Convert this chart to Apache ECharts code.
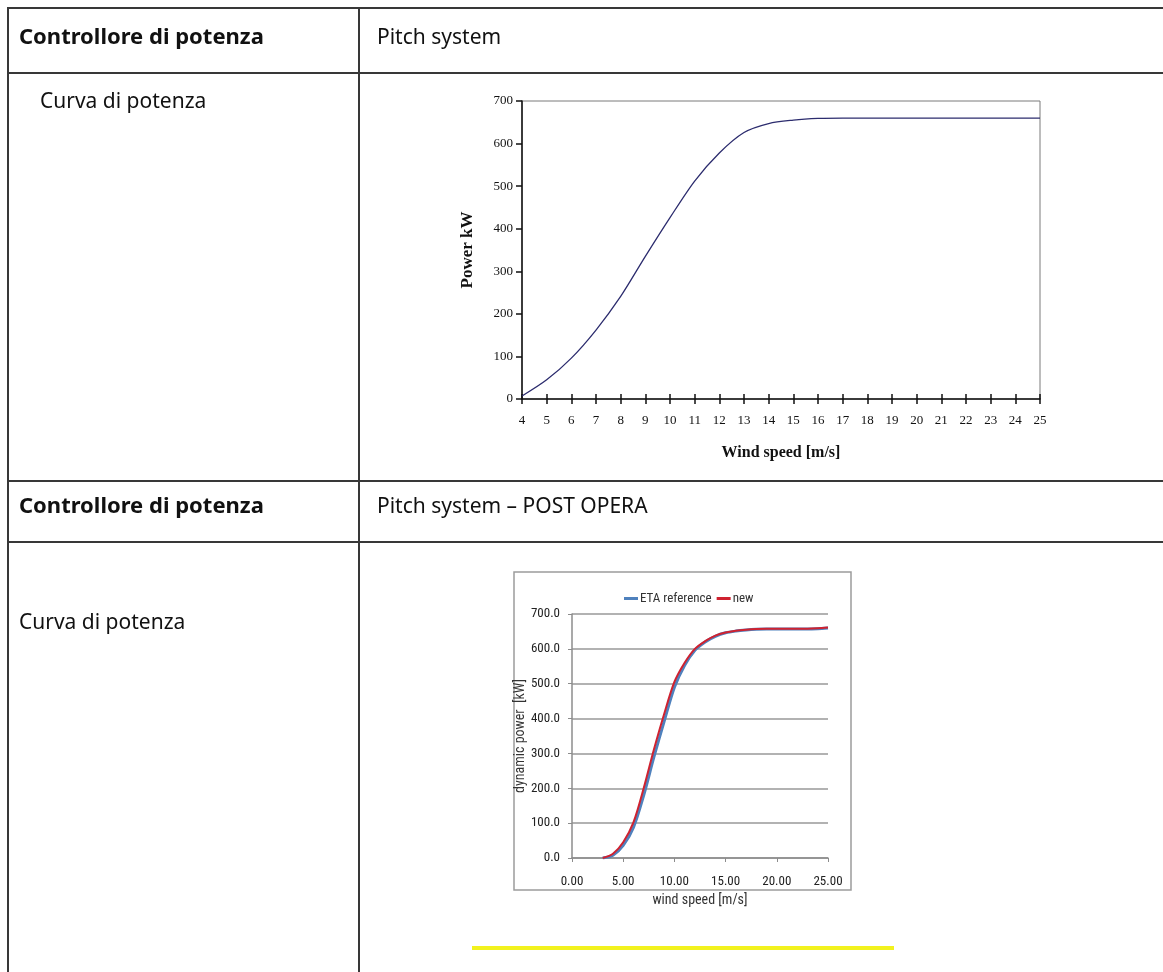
<!DOCTYPE html>
<html>
<head>
<meta charset="utf-8">
<script src="https://cdn.jsdelivr.net/npm/echarts@6/dist/echarts.min.js"></script>
<style>
  html, body { margin: 0; padding: 0; background: #fff; }
  #main { width: 1163px; height: 972px; }
</style>
</head>
<body>
<div id="main"></div>
<script>
// pitch system (before) - power curve
var windTop = [4, 5, 6, 7, 8, 9, 10, 11, 12, 13, 14, 15, 16, 17, 18, 19, 20, 21, 22, 23, 24, 25];
var powerTop = [7, 45, 96, 162, 241, 335, 426, 512, 578, 626, 647, 655, 659, 660, 660, 660, 660, 660, 660, 660, 660, 660];

// post opera - ETA reference vs new
var windPost = [3, 4, 5, 6, 7, 8, 9, 10, 11, 12, 13, 14, 15, 16, 17, 18, 19, 20, 21, 22, 23, 24, 25];
var powerEta = [0, 8, 36, 88, 180, 290, 392, 490, 553, 596, 620, 636, 646, 651, 654, 656, 657, 657, 657, 657, 657, 658, 660];
var powerNew = [0, 12, 45, 102, 200, 311, 413, 505, 560, 600, 622, 638, 647, 652, 655, 657, 658, 658, 658, 658, 658, 659, 661];

var headLeft = 'Controllore di potenza';
var rowLeft = 'Curva di potenza';
var headTop = 'Pitch system';
var headPost = 'Pitch system \u2013 POST OPERA';

function pairs(xs, ys) {
  var out = [];
  for (var i = 0; i < xs.length; i++) out.push([xs[i], ys[i]]);
  return out;
}

var serif = '"Liberation Serif", "Times New Roman", serif';
var narrow = '"Liberation Sans Narrow", "Roboto Condensed", "Liberation Sans", sans-serif';
var sans = '"Noto Sans", "DejaVu Sans", sans-serif';
var lineCol = '#383838';

function hline(y) {
  return { type: 'line', shape: { x1: 7, y1: y, x2: 1163, y2: y }, style: { stroke: lineCol, lineWidth: 2 } };
}
function vline(x) {
  return { type: 'line', shape: { x1: x, y1: 7, x2: x, y2: 972 }, style: { stroke: lineCol, lineWidth: 2 } };
}
function label(x, y, text, bold) {
  return {
    type: 'text', x: x, y: y,
    style: {
      text: text, fill: '#111', fontFamily: sans,
      fontSize: bold ? 22 : 21, fontWeight: bold ? 'bold' : 'normal',
      verticalAlign: 'middle'
    }
  };
}

var chart = echarts.init(document.getElementById('main'));

chart.setOption({
  animation: false,
  backgroundColor: '#fff',
  graphic: [
    hline(8), hline(73), hline(481), hline(542),
    vline(8), vline(359),
    label(19, 38, headLeft, true),
    label(377, 38, headTop, false),
    label(40, 102, rowLeft, false),
    label(19, 507, headLeft, true),
    label(377, 507, headPost, false),
    label(19, 623, rowLeft, false),
    {
      type: 'rect',
      shape: { x: 514, y: 572, width: 337, height: 318 },
      style: { fill: 'none', stroke: '#9c9c9c', lineWidth: 1.5 }
    },
    {
      type: 'line',
      shape: { x1: 472, y1: 948, x2: 894, y2: 948 },
      style: { stroke: '#f2f21e', lineWidth: 4 }
    }
  ],
  legend: {
    data: ['ETA reference', 'new'],
    left: 619, top: 587,
    icon: 'rect', itemWidth: 14, itemHeight: 3, itemGap: 5,
    textStyle: { fontSize: 13, fontFamily: narrow, color: '#333', padding: [0, 0, 0, -3] }
  },
  grid: [
    { left: 522, top: 101, width: 518, height: 298, show: true, borderColor: '#7a7a7a', borderWidth: 1, backgroundColor: 'transparent' },
    { left: 572, top: 614, width: 256, height: 244 }
  ],
  xAxis: [
    {
      type: 'value', gridIndex: 0, min: 4, max: 25, interval: 1,
      name: 'Wind speed [m/s]', nameLocation: 'middle', nameGap: 46,
      nameTextStyle: { fontFamily: serif, fontWeight: 'bold', fontSize: 16, color: '#111' },
      axisLine: { lineStyle: { color: '#111', width: 1.5 } },
      axisTick: { length: 5, lineStyle: { color: '#111', width: 1.5 } },
      axisLabel: { margin: 15, fontFamily: serif, fontSize: 13, color: '#111' },
      splitLine: { show: false }
    },
    {
      // inner half of the crossing ticks
      type: 'value', gridIndex: 0, min: 4, max: 25, interval: 1, position: 'bottom',
      axisLine: { show: false },
      axisTick: { inside: true, length: 5, lineStyle: { color: '#111', width: 1.5 } },
      axisLabel: { show: false },
      splitLine: { show: false }
    },
    {
      type: 'value', gridIndex: 1, min: 0, max: 25, interval: 5,
      name: 'wind speed [m/s]', nameLocation: 'middle', nameGap: 35,
      nameTextStyle: { fontFamily: narrow, fontSize: 14, color: '#333' },
      axisLine: { lineStyle: { color: '#8c8c8c', width: 1.5 } },
      axisTick: { length: 4, lineStyle: { color: '#8c8c8c' } },
      axisLabel: {
        margin: 17, fontFamily: narrow, fontSize: 13, color: '#222',
        formatter: function (v) { return v.toFixed(2); }
      },
      splitLine: { show: false }
    }
  ],
  yAxis: [
    {
      type: 'value', gridIndex: 0, min: 0, max: 700, interval: 100,
      name: 'Power kW', nameLocation: 'middle', nameRotate: 90, nameGap: 46,
      nameTextStyle: { fontFamily: serif, fontWeight: 'bold', fontSize: 17, color: '#111' },
      axisLine: { show: true, lineStyle: { color: '#111', width: 1.5 } },
      axisTick: { show: true, length: 6, lineStyle: { color: '#111', width: 1.5 } },
      axisLabel: { margin: 9, fontFamily: serif, fontSize: 13, color: '#111' },
      splitLine: { show: false }
    },
    {
      type: 'value', gridIndex: 1, min: 0, max: 700, interval: 100,
      name: 'dynamic power  [kW]', nameLocation: 'middle', nameRotate: 90, nameGap: 42,
      nameTextStyle: { fontFamily: narrow, fontSize: 14, color: '#333' },
      axisLine: { show: true, lineStyle: { color: '#8c8c8c', width: 1.5 } },
      axisTick: { show: true, length: 4, lineStyle: { color: '#8c8c8c' } },
      axisLabel: {
        margin: 12, fontFamily: narrow, fontSize: 13, color: '#222',
        formatter: function (v) { return v.toFixed(1); }
      },
      splitLine: { show: true, lineStyle: { color: '#999', width: 1.5 } }
    }
  ],
  series: [
    {
      name: 'Power', type: 'line', xAxisIndex: 0, yAxisIndex: 0,
      data: pairs(windTop, powerTop),
      smooth: 0.3, showSymbol: false,
      lineStyle: { color: '#2c2c6e', width: 1.3 }
    },
    {
      name: 'ETA reference', type: 'line', xAxisIndex: 2, yAxisIndex: 1,
      data: pairs(windPost, powerEta),
      smooth: 0.3, showSymbol: false,
      itemStyle: { color: '#4f81bd' },
      lineStyle: { color: '#4f81bd', width: 3 }
    },
    {
      name: 'new', type: 'line', xAxisIndex: 2, yAxisIndex: 1,
      data: pairs(windPost, powerNew),
      smooth: 0.3, showSymbol: false,
      itemStyle: { color: '#cf2230' },
      lineStyle: { color: '#cf2230', width: 2 }
    }
  ]
});
</script>
</body>
</html>
